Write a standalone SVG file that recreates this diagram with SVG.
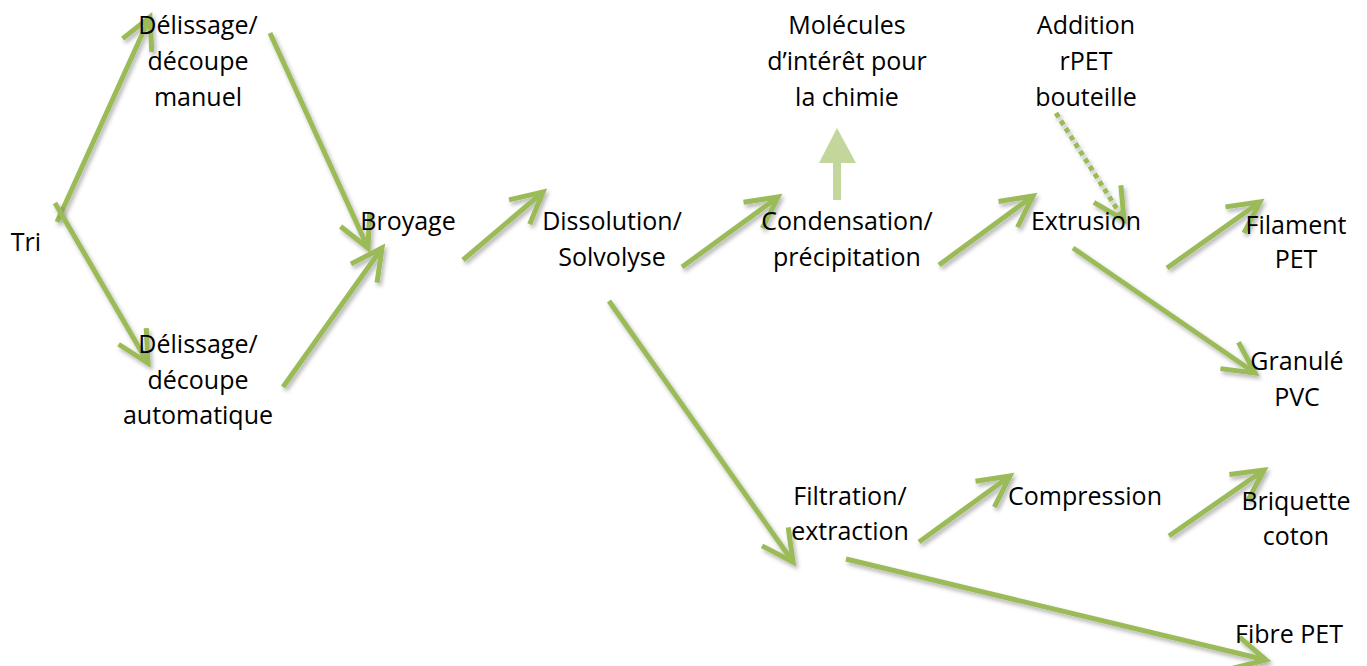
<svg xmlns="http://www.w3.org/2000/svg" width="1367" height="666" viewBox="0 0 1367 666">
<style>
text{font-family:"Open Sans","Noto Sans",sans-serif;font-size:25px;fill:#000;text-anchor:middle}
.c{fill:none;stroke:#9BBB59;stroke-width:5;stroke-linecap:butt;marker-end:url(#ah);filter:url(#sh)}
.d{stroke-dasharray:5 4;stroke-width:5}
</style>
<defs>
<filter id="sh" x="-20%" y="-20%" width="140%" height="140%">
<feDropShadow dx="2" dy="3" stdDeviation="2" flood-color="#000" flood-opacity="0.3"/>
</filter>
<marker id="ah" markerUnits="userSpaceOnUse" markerWidth="50" markerHeight="50" viewBox="-40 -25 50 50" refX="0" refY="0" orient="auto" overflow="visible">
<path d="M-31,-16 L0,0 L-31,16" fill="none" stroke="#9BBB59" stroke-width="5" stroke-linejoin="miter"/>
</marker>
</defs>
<g id="connectors">
<path class="c" d="M57,222 L150,17"/>
<path class="c" d="M55,203 L148,363"/>
<path class="c" d="M270,33 L368,248"/>
<path class="c" d="M283,387 L382,248"/>
<path class="c" d="M463,260 L543,192"/>
<path class="c" d="M682,267 L778,197"/>
<path class="c" d="M939,265 L1033,196"/>
<path class="c d" d="M1056,113 L1124,220"/>
<path class="c" d="M1073,248 L1255,373"/>
<path class="c" d="M1167,268 L1260,202"/>
<path class="c" d="M609,301 L793,562"/>
<path class="c" d="M919,542 L1010,476"/>
<path class="c" d="M1169,536 L1264,470"/>
<path class="c" d="M846,559 L1266,660"/>
<polygon id="block-arrow" points="833,200 841,200 841,163 856,163 837,128 819,163 833,163" fill="#C3D69B"/>
</g>
<g id="tri"><text x="26" y="251">Tri</text></g>
<g id="manuel"><text x="198" y="34">Délissage/</text><text x="198" y="70">découpe</text><text x="198" y="106">manuel</text></g>
<g id="automatique"><text x="198" y="353">Délissage/</text><text x="198" y="389">découpe</text><text x="198" y="424">automatique</text></g>
<g id="broyage"><text x="408" y="230">Broyage</text></g>
<g id="dissolution"><text x="612" y="230">Dissolution/</text><text x="612" y="266">Solvolyse</text></g>
<g id="molecules"><text x="847" y="34">Molécules</text><text x="847" y="70">d’intérêt pour</text><text x="847" y="106">la chimie</text></g>
<g id="condensation"><text x="847" y="230">Condensation/</text><text x="847" y="266">précipitation</text></g>
<g id="addition"><text x="1086" y="34">Addition</text><text x="1086" y="70">rPET</text><text x="1086" y="106">bouteille</text></g>
<g id="extrusion"><text x="1086" y="230">Extrusion</text></g>
<g id="filament"><text x="1296" y="234">Filament</text><text x="1296" y="268">PET</text></g>
<g id="granule"><text x="1297" y="370">Granulé</text><text x="1297" y="406">PVC</text></g>
<g id="filtration"><text x="850" y="505">Filtration/</text><text x="850" y="540">extraction</text></g>
<g id="compression"><text x="1085" y="505">Compression</text></g>
<g id="briquette"><text x="1296" y="510">Briquette</text><text x="1296" y="545">coton</text></g>
<g id="fibre"><text x="1289" y="643">Fibre PET</text></g>
</svg>
